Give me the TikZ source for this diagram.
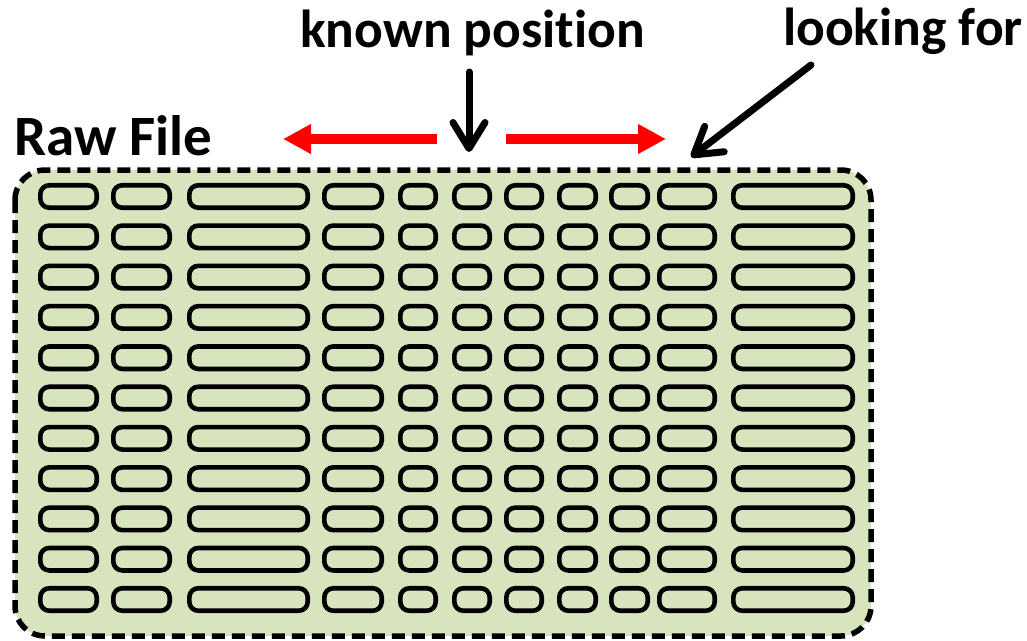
\documentclass[tikz,border=0pt]{standalone}
\usepackage{fontspec}
\setmainfont{Carlito}[Ligatures={NoCommon}]
\usetikzlibrary{arrows.meta}
\definecolor{filegreen}{HTML}{D7E4BD}
\begin{document}
\begin{tikzpicture}[x=1pt,y=-1pt,
  cell/.style={draw=black, line width=4.6pt, fill=filegreen, rounded corners=9pt,
    inner sep=0pt, minimum height=22.5pt},
  heading/.style={font=\bfseries\fontsize{53.5}{60}\selectfont, inner sep=0pt},
  pointer/.style={line width=7pt, line cap=round,
    -{Straight Barb[length=26pt,width=32pt,round]}},
  redarrow/.style={draw=red, line width=10pt, -{Triangle[length=28pt,width=28pt]}}
]
\useasboundingbox (0,0) rectangle (1027,640);

% the file: dashed rounded frame
\draw[fill=filegreen, line width=5.5pt, dash pattern=on 13pt off 7pt,
  rounded corners=30pt] (15,170) rectangle (871,636);

% records: 11 rows of 11 fields each
\foreach \l/\r [count=\c, evaluate=\l as \xc using (\l+\r)/2,
    evaluate=\l as \w using \r-\l-4.6] in
    {38/99,111/172,187/310,322/384,398/438,452/492,504/544,557/598,609/650,657/717,731/855}
  \foreach \i in {0,...,10}
    \node[cell, minimum width=\w pt] (cell-\c-\i) at (\xc,{196.5+40.3*\i}) {};

% labels
\node[heading, font=\bfseries\fontsize{57}{64}\selectfont, anchor=base west]
  (raw) at (14,155) {Raw File};
\node[heading, anchor=base west] (known) at (300,47) {known position};
\node[heading, anchor=base west] (look) at (783,45) {looking for};

% pointers
\coordinate (knownA) at (469,72);
\coordinate (knownB) at (469,152);
\coordinate (lookA) at (811,65);
\coordinate (lookB) at (691,157);
\draw[pointer] (knownA) -- (knownB);
\draw[pointer] (lookA) -- (lookB);

% search directions
\coordinate (leftA) at (437,139);
\coordinate (leftB) at (283,139);
\coordinate (rightA) at (506,139);
\coordinate (rightB) at (666,139);
\draw[redarrow] (leftA) -- (leftB);
\draw[redarrow] (rightA) -- (rightB);
\end{tikzpicture}
\end{document}
